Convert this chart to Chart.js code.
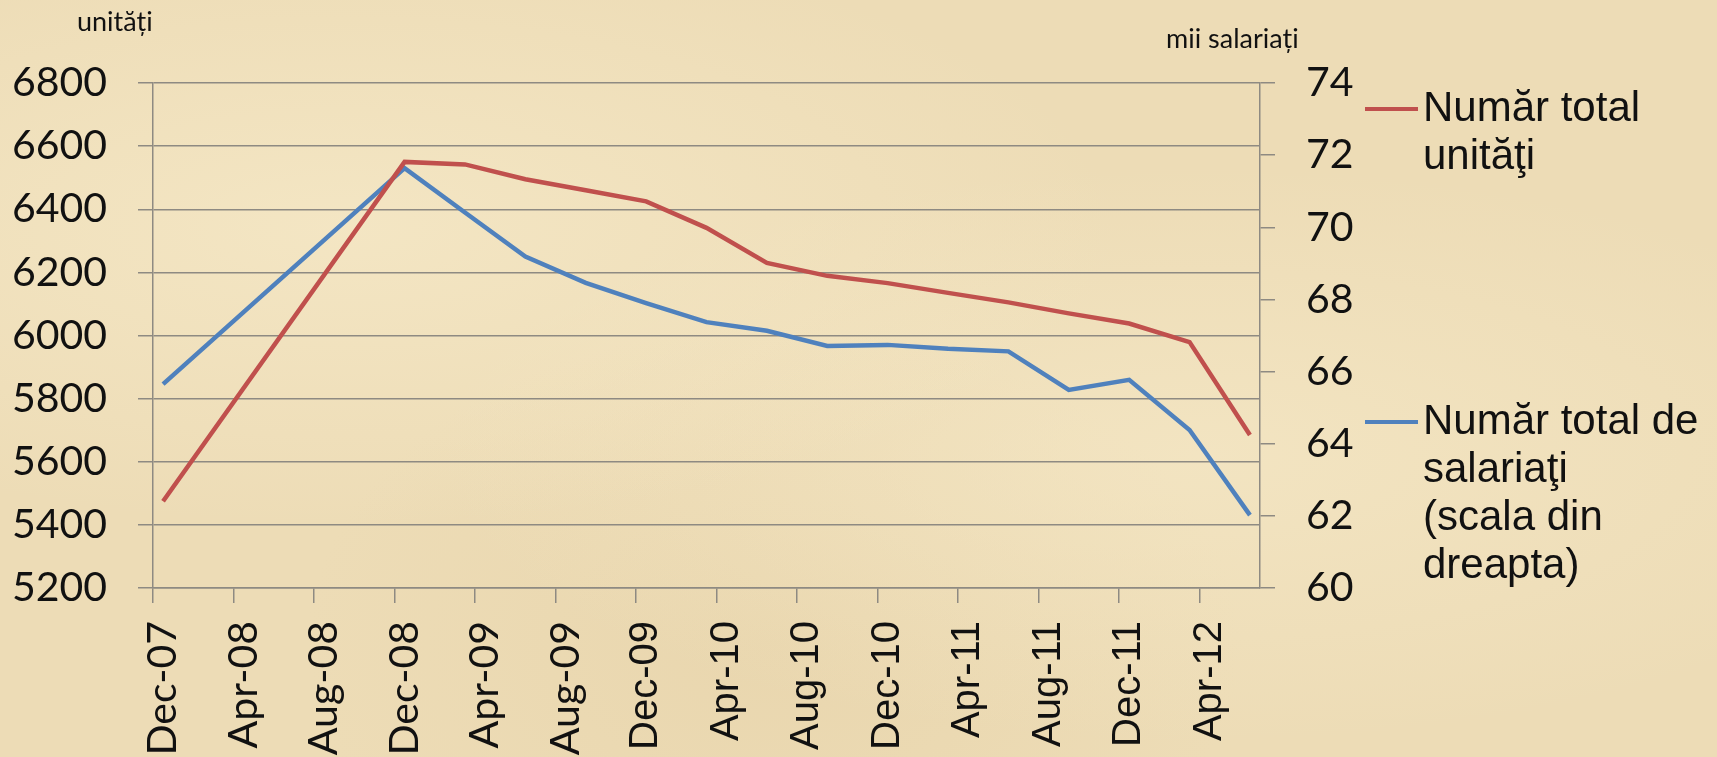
<!DOCTYPE html>
<html>
<head>
<meta charset="utf-8">
<script src="https://cdn.jsdelivr.net/npm/chart.js@4.4.1/dist/chart.umd.min.js"></script>
<style>
  html, body { margin: 0; padding: 0; }
  body {
    width: 1717px; height: 757px; overflow: hidden; position: relative;
    background-color: #eddcb6;
    background-image:
      radial-gradient(ellipse at 20% 30%, rgba(248,236,204,0.6), rgba(248,236,204,0) 40%),
      radial-gradient(ellipse at 70% 60%, rgba(248,236,204,0.5), rgba(248,236,204,0) 45%),
      radial-gradient(ellipse at 45% 85%, rgba(226,204,160,0.35), rgba(226,204,160,0) 35%);
  }
  #chart { position: absolute; left: 0; top: 0; }
  .axis-title { position: absolute; font-family: Lato, sans-serif; font-size: 27px; line-height: 30px; color: #111; white-space: nowrap; }
  .legend-item { position: absolute; left: 1365px; }
  .legend-line { position: absolute; left: 0; width: 53px; height: 4px; }
  .legend-text { position: absolute; left: 58px; top: 0; font-family: "Liberation Sans", Arial, sans-serif; font-size: 42px; line-height: 48px; color: #111; white-space: nowrap; }
</style>
</head>
<body>
<canvas id="chart" width="1717" height="757"></canvas>
<div class="axis-title" style="left:77px; top:6px;">unități</div>
<div class="axis-title" style="left:1166px; top:23px;">mii salariați</div>
<div id="legend"></div>
<script>
const monthNames = ['Jan', 'Feb', 'Mar', 'Apr', 'May', 'Jun', 'Jul', 'Aug', 'Sep', 'Oct', 'Nov', 'Dec'];

// monthly date axis, Dec-07 .. Jun-12, a label every 4 months
const axisStart = { year: 2007, month: 11 };
const axisMonths = 55;
const labelEvery = 4;

const dates = ['Dec-07', 'Dec-08', 'Mar-09', 'Jun-09', 'Sep-09', 'Dec-09', 'Mar-10', 'Jun-10',
  'Sep-10', 'Dec-10', 'Mar-11', 'Jun-11', 'Sep-11', 'Dec-11', 'Mar-12', 'Jun-12'];
const unitati = [5475, 6550, 6542, 6495, 6460, 6425, 6341, 6230,
  6189, 6166, 6135, 6105, 6070, 6038, 5979, 5685];
const salariati = [65.65, 71.64, 70.41, 69.19, 68.46, 67.90, 67.37, 67.13,
  66.71, 66.74, 66.63, 66.56, 65.49, 65.77, 64.38, 62.02];

const seriesNames = ['Număr total unităţi', 'Număr total de salariaţi (scala din dreapta)'];
const legendLines = [['Număr total', 'unităţi'], ['Număr total de', 'salariaţi', '(scala din', 'dreapta)']];
const colors = ['#c0504d', '#4f81bd'];

const months = [];
for (let i = 0; i < axisMonths; i++) {
  const m = axisStart.month + i;
  const yr = axisStart.year + Math.floor(m / 12);
  months.push(monthNames[m % 12] + '-' + String(yr % 100).padStart(2, '0'));
}

const gridColor = '#8e8a82';

function draw() {
  const ctx = document.getElementById('chart');
  new Chart(ctx, {
    type: 'line',
    data: {
      labels: months,
      datasets: [
        {
          label: seriesNames[0],
          data: dates.map((d, i) => ({ x: d, y: unitati[i] })),
          borderColor: colors[0],
          backgroundColor: colors[0],
          borderWidth: 4.5,
          pointRadius: 0,
          tension: 0,
          yAxisID: 'y'
        },
        {
          label: seriesNames[1],
          data: dates.map((d, i) => ({ x: d, y: salariati[i] })),
          borderColor: colors[1],
          backgroundColor: colors[1],
          borderWidth: 4.5,
          pointRadius: 0,
          tension: 0,
          yAxisID: 'y1'
        }
      ]
    },
    options: {
      responsive: false,
      animation: false,
      devicePixelRatio: 1,
      layout: { padding: { top: 83, left: 0, right: 0, bottom: 0 } },
      plugins: {
        legend: { display: false },
        tooltip: { enabled: false }
      },
      scales: {
        x: {
          type: 'category',
          offset: true,
          grid: {
            offset: true,
            drawOnChartArea: false,
            tickLength: 15,
            lineWidth: 1.5,
            color: (c) => (c.index % labelEvery === 0 ? gridColor : 'rgba(0,0,0,0)')
          },
          border: { color: gridColor, width: 1.5 },
          ticks: {
            autoSkip: false,
            minRotation: 90,
            maxRotation: 90,
            padding: 18,
            color: '#111',
            font: (c) => (c.index >= 24 ? { family: 'Liberation Sans', size: 40 } : { family: 'Lato', size: 41 }),
            callback: function (val, i) { return i % labelEvery === 0 ? months[i] : ''; }
          },
          afterFit: (s) => { s.height = 757 - 588; }
        },
        y: {
          position: 'left',
          min: 5200,
          max: 6800,
          grid: { color: gridColor, lineWidth: 1.5, tickLength: 15 },
          border: { color: gridColor, width: 1.5 },
          ticks: {
            stepSize: 200, padding: 31, color: '#111', font: { family: 'Lato', size: 41 },
            callback: (v) => String(v)
          },
          afterFit: (s) => { s.width = 153; }
        },
        y1: {
          position: 'right',
          min: 60,
          max: 74,
          grid: { drawOnChartArea: false, color: gridColor, lineWidth: 1.5, tickLength: 15 },
          border: { color: gridColor, width: 1.5 },
          ticks: {
            stepSize: 2, padding: 31, color: '#111', font: { family: 'Lato', size: 41 },
            callback: (v) => String(v)
          },
          afterFit: (s) => { s.width = 1717 - 1260; }
        }
      }
    }
  });

  // legend on the right, lines wrapped like the original
  const legendTops = [83, 396];
  const legend = document.getElementById('legend');
  legendLines.forEach((lines, i) => {
    const item = document.createElement('div');
    item.className = 'legend-item';
    item.style.top = legendTops[i] + 'px';
    const line = document.createElement('div');
    line.className = 'legend-line';
    line.style.background = colors[i];
    line.style.top = '24px';
    const text = document.createElement('div');
    text.className = 'legend-text';
    text.innerHTML = lines.join('<br>');
    item.appendChild(line);
    item.appendChild(text);
    legend.appendChild(item);
  });
}

Promise.all([
  document.fonts.load('41px Lato'),
  document.fonts.load('40px "Liberation Sans"')
]).then(draw, draw);
</script>
</body>
</html>
